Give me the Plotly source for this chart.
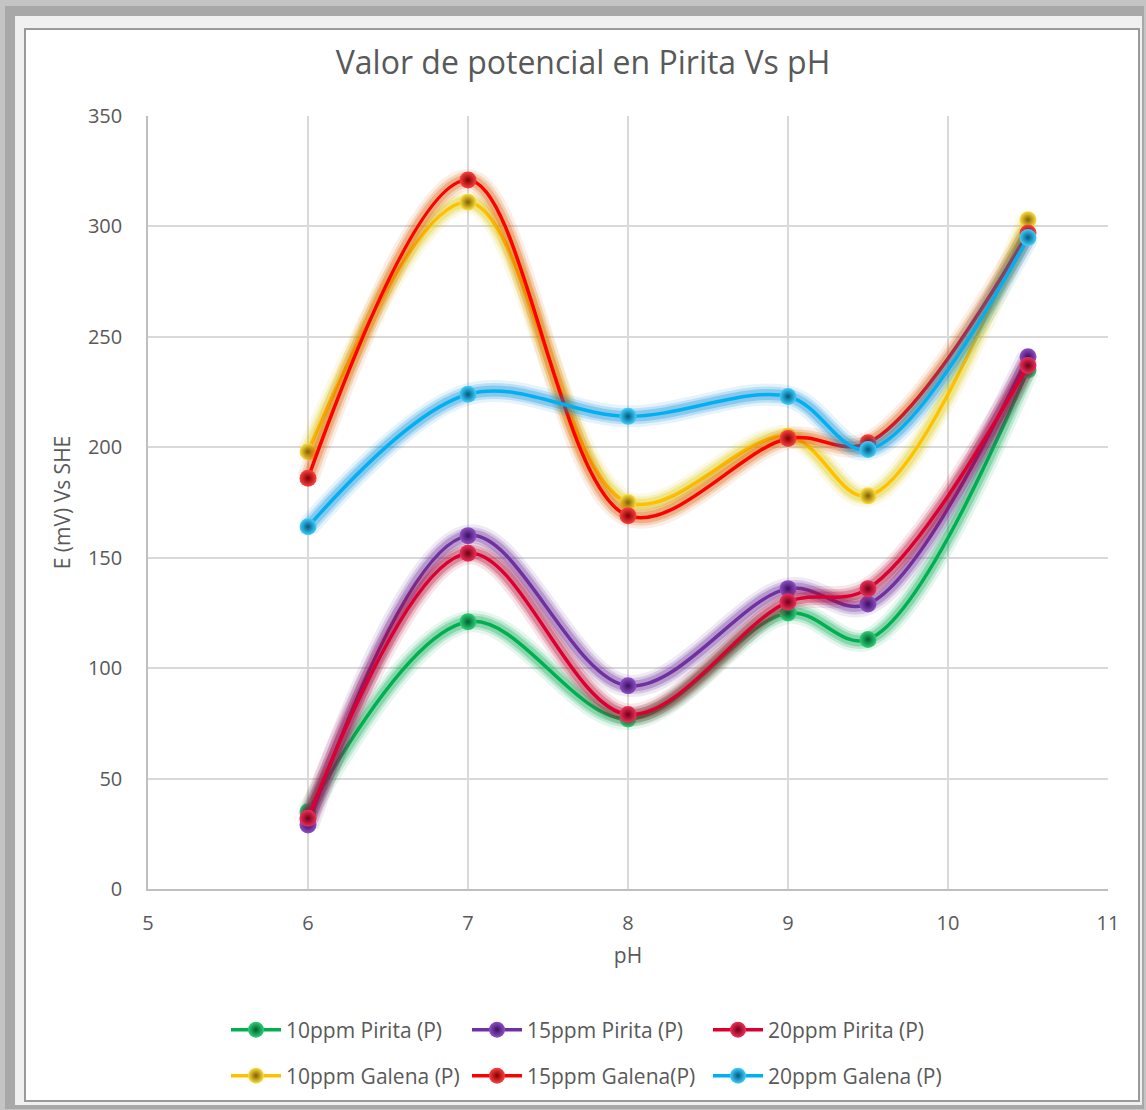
import plotly.graph_objects as go

# pH values shared by every series
ph = [6, 7, 8, 9, 9.5, 10.5]

# Potential readings, E (mV) vs SHE
pirita_10 = [35, 121, 77, 125, 113, 235]
pirita_15 = [29, 160, 92, 136, 129, 241]
pirita_20 = [32, 152, 79, 130, 136, 237]
galena_10 = [198, 311, 175, 205, 178, 303]
galena_15 = [186, 321, 169, 204, 202, 297]
galena_20 = [164, 224, 214, 223, 199, 295]

series_names = [
    "10ppm Pirita (P)", "15ppm Pirita (P)", "20ppm Pirita (P)",
    "10ppm Galena (P)", "15ppm Galena(P)", "20ppm Galena (P)",
]
series_values = [pirita_10, pirita_15, pirita_20, galena_10, galena_15, galena_20]
line_colors = ["#00b050", "#7030a0", "#dc0032", "#ffc000", "#ff0000", "#00b0f0"]
ball_colors = ["#2fd07a", "#9050c8", "#f0305a", "#ffe040", "#ff4040", "#40d0ff"]
shade_colors = ["#00602e", "#3a1060", "#700018", "#806000", "#800000", "#005a80"]
glow_colors = ["0,170,80", "100,40,150", "180,0,40", "220,200,0", "220,90,0", "0,140,220"]

W, H = 1146, 1110
L, R, T, B = 148, 1108, 116, 889


def px(x):
    return (x - L) / (R - L)


def py(y):
    return (B - y) / (B - T)


fig = go.Figure()

for i, (name, vals) in enumerate(zip(series_names, series_values)):
    # soft glow under each curve
    for w, a in ((22, 0.10), (16, 0.18), (11, 0.28)):
        fig.add_trace(go.Scatter(
            x=ph, y=vals, mode="lines", showlegend=False, hoverinfo="skip",
            line=dict(color=f"rgba({glow_colors[i]},{a})", width=w,
                      shape="spline", smoothing=1.0),
        ))
    fig.add_trace(go.Scatter(
        x=ph, y=vals, mode="lines+markers", name=name,
        legend="legend" if i < 3 else "legend2",
        line=dict(color=line_colors[i], width=3.5, shape="spline", smoothing=1.0),
        marker=dict(size=17, color=ball_colors[i], line=dict(width=0),
                    gradient=dict(type="radial", color=shade_colors[i])),
    ))

font_family = "Open Sans, Noto Sans, sans-serif"
text_color = "#595959"

shapes = [
    # outer shadow band
    dict(type="rect", xref="paper", yref="paper", layer="below",
         x0=px(5), x1=px(1144), y0=py(1109), y1=py(6),
         fillcolor="#a8a8a8", line=dict(width=0)),
    # light bevel
    dict(type="rect", xref="paper", yref="paper", layer="below",
         x0=px(15), x1=px(1142), y0=py(1105), y1=py(16),
         fillcolor="#f0f0f0", line=dict(width=0)),
    # white chart area with thin border
    dict(type="rect", xref="paper", yref="paper", layer="below",
         x0=px(25), x1=px(1139), y0=py(1101), y1=py(29),
         fillcolor="#ffffff", line=dict(color="#9a9a9a", width=2)),
]

legend_common = dict(orientation="h", xanchor="left", yanchor="middle",
                     entrywidth=176, entrywidthmode="pixels",
                     font=dict(size=21, color=text_color),
                     bgcolor="rgba(0,0,0,0)", itemwidth=50, tracegroupgap=0)

fig.update_layout(
    width=W, height=H,
    margin=dict(l=L, r=W - R, t=T, b=H - B, pad=0),
    paper_bgcolor="#c4c4c4",
    plot_bgcolor="rgba(0,0,0,0)",
    font=dict(family=font_family, color=text_color, size=20),
    title=dict(text="Valor de potencial en Pirita Vs pH", x=583 / W, xanchor="center",
               xref="container", y=1 - 63 / H, yanchor="middle",
               font=dict(size=32, color=text_color, family=font_family)),
    shapes=shapes,
    xaxis=dict(
        range=[5, 11], dtick=1, tick0=5, showgrid=True, gridcolor="#d9d9d9",
        gridwidth=1.5, zeroline=False, showline=True, linecolor="#bfbfbf",
        linewidth=1.5, ticks="", ticklabelstandoff=15,
        tickfont=dict(size=20, color=text_color),
        title=dict(text="pH", standoff=14, font=dict(size=21, color=text_color)),
    ),
    yaxis=dict(
        range=[0, 350], dtick=50, tick0=0, showgrid=True, gridcolor="#d9d9d9",
        gridwidth=1.5, zeroline=False, showline=True, linecolor="#bfbfbf",
        linewidth=1.5, ticks="", ticklabelstandoff=20,
        tickfont=dict(size=20, color=text_color),
        title=dict(text="E (mV) Vs SHE", standoff=12, font=dict(size=21, color=text_color)),
    ),
    legend=dict(x=px(226), y=py(1030), **legend_common),
    legend2=dict(x=px(226), y=py(1076), **legend_common),
)

fig.write_html("out.html")
